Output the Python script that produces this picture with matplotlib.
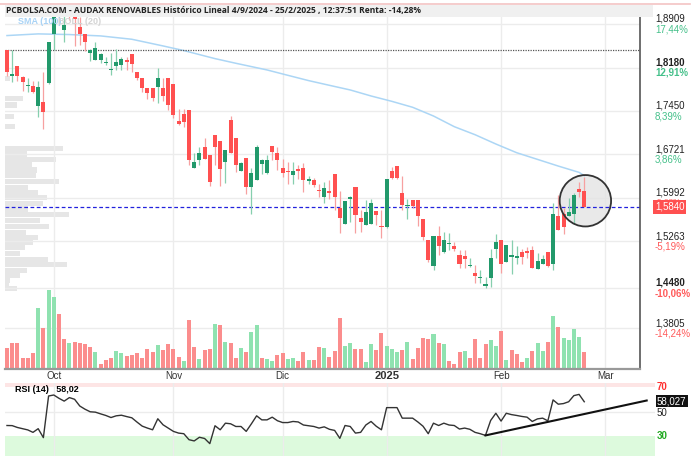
import numpy as np
import pandas as pd
import matplotlib
matplotlib.use('Agg')
import matplotlib.pyplot as plt
from matplotlib.patches import Rectangle, Circle
from matplotlib.lines import Line2D
from matplotlib.transforms import ScaledTranslation, blended_transform_factory

plt.rcParams['font.family'] = ['Liberation Sans', 'DejaVu Sans']

# ## Data ## #

opens = [1.8475, 1.803, 1.8206, 1.8027, 1.788, 1.787, 1.754, 1.760, 1.7926, 1.875,
         1.920, 1.881, 1.915, 1.908, 1.886, 1.874, 1.843, 1.831, 1.831, 1.826,
         1.814, 1.821, 1.822, 1.831, 1.840, 1.811, 1.800, 1.783, 1.783, 1.786,
         1.783, 1.800, 1.790, 1.729, 1.740, 1.747, 1.650, 1.662, 1.685, 1.671,
         1.705, 1.695, 1.660, 1.730, 1.699, 1.645, 1.666, 1.618, 1.630, 1.656,
         1.641, 1.686, 1.674, 1.650, 1.644, 1.638, 1.647, 1.650, 1.627, 1.630,
         1.612, 1.600, 1.611, 1.640, 1.582, 1.556, 1.597, 1.617, 1.566, 1.553,
         1.556, 1.577, 1.552, 1.550, 1.645, 1.653, 1.608, 1.586, 1.595, 1.595,
         1.564, 1.528, 1.485, 1.535, 1.509, 1.522, 1.519, 1.504, 1.501, 1.486,
         1.474, 1.465, 1.452, 1.464, 1.513, 1.529, 1.492, 1.500, 1.499, 1.508,
         1.510, 1.512, 1.480, 1.489, 1.509, 1.489, 1.569, 1.573, 1.569, 1.573,
         1.614, 1.610]
highs = [1.8475, 1.847, 1.8206, 1.803, 1.800, 1.795, 1.795, 1.810, 1.861, 1.915,
         1.925, 1.906, 1.920, 1.915, 1.903, 1.874, 1.849, 1.861, 1.842, 1.836,
         1.842, 1.849, 1.836, 1.836, 1.840, 1.811, 1.800, 1.783, 1.783, 1.817,
         1.800, 1.800, 1.790, 1.748, 1.748, 1.747, 1.674, 1.685, 1.699, 1.671,
         1.705, 1.695, 1.680, 1.737, 1.699, 1.660, 1.666, 1.650, 1.688, 1.664,
         1.671, 1.686, 1.685, 1.665, 1.660, 1.660, 1.654, 1.657, 1.636, 1.632,
         1.623, 1.626, 1.629, 1.640, 1.610, 1.594, 1.603, 1.617, 1.579, 1.596,
         1.598, 1.577, 1.579, 1.631, 1.651, 1.653, 1.636, 1.597, 1.595, 1.595,
         1.564, 1.528, 1.535, 1.552, 1.542, 1.540, 1.526, 1.511, 1.511, 1.498,
         1.486, 1.478, 1.467, 1.513, 1.539, 1.529, 1.520, 1.529, 1.518, 1.514,
         1.517, 1.518, 1.507, 1.503, 1.509, 1.590, 1.604, 1.582, 1.599, 1.608,
         1.626, 1.635]
lows = [1.803, 1.793, 1.796, 1.779, 1.777, 1.775, 1.735, 1.714, 1.790, 1.847,
        1.895, 1.861, 1.898, 1.854, 1.856, 1.846, 1.829, 1.831, 1.825, 1.822,
        1.805, 1.813, 1.814, 1.814, 1.811, 1.797, 1.777, 1.765, 1.761, 1.759,
        1.761, 1.747, 1.734, 1.721, 1.718, 1.654, 1.650, 1.654, 1.664, 1.619,
        1.654, 1.620, 1.625, 1.674, 1.643, 1.645, 1.606, 1.572, 1.630, 1.640,
        1.640, 1.663, 1.646, 1.635, 1.623, 1.623, 1.631, 1.609, 1.623, 1.618,
        1.600, 1.590, 1.598, 1.579, 1.540, 1.556, 1.559, 1.540, 1.542, 1.553,
        1.556, 1.553, 1.532, 1.548, 1.631, 1.631, 1.579, 1.563, 1.582, 1.552,
        1.529, 1.492, 1.479, 1.503, 1.507, 1.512, 1.510, 1.481, 1.481, 1.484,
        1.457, 1.457, 1.448, 1.450, 1.498, 1.474, 1.491, 1.471, 1.489, 1.489,
        1.498, 1.481, 1.480, 1.489, 1.484, 1.479, 1.545, 1.539, 1.568, 1.555,
        1.600, 1.584]
closes = [1.811, 1.807, 1.8044, 1.794, 1.789, 1.777, 1.786, 1.743, 1.861, 1.906,
          1.903, 1.889, 1.905, 1.900, 1.874, 1.861, 1.8475, 1.850, 1.841, 1.827,
          1.815, 1.828, 1.833, 1.827, 1.824, 1.801, 1.783, 1.776, 1.766, 1.800,
          1.770, 1.755, 1.738, 1.724, 1.726, 1.662, 1.660, 1.674, 1.664, 1.626,
          1.685, 1.648, 1.680, 1.675, 1.655, 1.657, 1.618, 1.641, 1.684, 1.662,
          1.663, 1.677, 1.662, 1.641, 1.642, 1.645, 1.644, 1.630, 1.631, 1.621,
          1.610, 1.615, 1.607, 1.601, 1.566, 1.594, 1.601, 1.570, 1.558, 1.576,
          1.590, 1.570, 1.550, 1.631, 1.632, 1.633, 1.587, 1.588, 1.585, 1.568,
          1.533, 1.495, 1.535, 1.519, 1.528, 1.523, 1.513, 1.489, 1.496, 1.487,
          1.468, 1.467, 1.455, 1.499, 1.526, 1.488, 1.520, 1.503, 1.502, 1.500,
          1.506, 1.482, 1.494, 1.497, 1.485, 1.572, 1.546, 1.550, 1.576, 1.604,
          1.609, 1.584]
volume = [21, 26, 26, 11, 11, 16, 61, 41, 79, 72,
          55, 30, 26, 27, 26, 25, 22, 17, 5, 9,
          11, 18, 16, 13, 14, 16, 11, 20, 17, 24,
          19, 25, 20, 12, 8, 49, 22, 10, 19, 20,
          45, 44, 27, 26, 11, 21, 17, 37, 44, 11,
          10, 8, 14, 16, 10, 11, 8, 17, 9, 9,
          22, 21, 12, 18, 51, 23, 26, 20, 20, 7,
          25, 19, 36, 23, 20, 17, 19, 27, 10, 21,
          31, 30, 35, 26, 25, 8, 5, 17, 18, 11,
          30, 11, 25, 29, 23, 38, 9, 19, 15, 7,
          11, 18, 26, 18, 27, 53, 42, 31, 29, 40,
          32, 17]
rsi = [38.6, 38.5, 37.0, 36.0, 35.0, 33.0, 36.0, 28.7, 62.7, 63.5,
       60.8, 58.5, 61.4, 60.0, 54.5, 51.9, 49.8, 49.5, 48.1, 46.8,
       45.1, 46.5, 47.0, 45.9, 44.9, 41.4, 38.1, 36.5, 35.1, 44.1,
       39.2, 36.5, 33.8, 32.4, 31.9, 27.0, 26.0, 29.0, 28.0, 23.8,
       38.4, 35.1, 40.5, 40.0, 37.8, 37.8, 33.8, 40.0, 46.5, 43.2,
       43.2, 45.4, 42.5, 41.0, 41.0, 41.9, 41.5, 39.0, 38.4, 37.8,
       36.5, 37.5, 35.5, 34.6, 28.1, 38.6, 37.8, 32.4, 33.0, 39.0,
       41.9, 38.0, 35.1, 53.2, 53.2, 53.2, 44.6, 44.6, 44.6, 41.5,
       38.0, 31.9, 40.5, 38.6, 40.5, 39.0, 38.6, 35.7, 36.5, 35.5,
       33.0, 31.9, 30.5, 42.7, 48.6, 42.2, 48.6, 47.5, 46.8, 46.0,
       45.4, 41.9, 44.0, 44.6, 42.4, 59.5, 56.0, 56.5, 58.0, 63.0,
       64.0, 58.0]

# SMA(100) read at a few sessions
sma_idx = [0, 6, 12, 18, 24, 30, 34, 40, 44, 50, 54, 58, 62, 66, 70, 74, 78,
           82, 86, 90, 94, 98, 102, 106, 110, 111]
sma_val = [1.8716, 1.8744, 1.8733, 1.8710, 1.8654, 1.8542, 1.8464, 1.8329,
           1.8251, 1.8139, 1.8049, 1.7960, 1.7881, 1.7803, 1.7702, 1.7612,
           1.7512, 1.7366, 1.7187, 1.7052, 1.6896, 1.6750, 1.6638, 1.6526,
           1.6420, 1.6364]

# volume at price profile (left side)
prof_price = [1.800, 1.7663, 1.7551, 1.7360, 1.7187, 1.6823, 1.6728, 1.6632,
              1.6543, 1.6459, 1.6364, 1.6263, 1.6168, 1.6078, 1.5994, 1.5899,
              1.5804, 1.5708, 1.5613, 1.5512, 1.5417, 1.5333, 1.5244, 1.5154,
              1.5059, 1.4964, 1.4874, 1.4773, 1.4684, 1.4605, 1.4532, 1.4470]
prof_vol = [5, 18, 12, 9, 10, 58, 22, 51, 27, 32, 31, 54, 23, 33, 42, 38,
            23, 64, 35, 44, 21, 33, 28, 20, 15, 43, 62, 22, 15, 5, 4, 12]

price_ticks = [1.8909, 1.8180, 1.7450, 1.6721, 1.5992, 1.5263, 1.4480, 1.3805]
price_labels = ['1,8909', '1,8180', '1,7450', '1,6721', '1,5992', '1,5263',
                '1,4480', '1,3805']
pct_labels = ['17,44%', '12,91%', '8,39%', '3,86%', '-0,68%', '-5,19%',
              '-10,06%', '-14,24%']
bold_ticks = ['1,8180', '1,4480']

month_starts = ['2024-10-01', '2024-11-01', '2024-12-01', '2025-01-01',
                '2025-02-01', '2025-03-01']
month_labels = ['Oct', 'Nov', 'Dic', '2025', 'Feb', 'Mar']
holidays = ['2024-12-25', '2024-12-26', '2025-01-01']

last_price = 1.5840
buy_price = 1.8479
rsi_last = '58,027'
rsi_trend_idx = [92, 123]
rsi_trend_val = [30.5, 59.0]
circle_idx = 111.2
circle_price = 1.5944

title = ('PCBOLSA.COM - AUDAX RENOVABLES Histórico Lineal 4/9/2024 - '
         '25/2/2025 , 12:37:51 Renta: -14,28%')

# ## Styles ## #
W, H = 695, 461
red = '#ff5050'
green = '#22996b'
red_wick = '#f7a0a0'
green_wick = '#86cfae'
red_vol = '#fb8d8d'
green_vol = '#8fe2b0'
grid_c = '#ececec'


def rect(l, t, r, b):
    # pixel box -> figure fraction
    return [l / W, 1 - b / H, (r - l) / W, (b - t) / H]


dates = pd.bdate_range('2024-09-18', '2025-03-10')
dates = dates[~dates.isin(pd.to_datetime(holidays))]
month_pos = dates.searchsorted(pd.to_datetime(month_starts))

n = len(closes)
x = np.arange(n)
o = np.array(opens)
c = np.array(closes)
hi = np.array(highs)
lo = np.array(lows)
up = c >= o
vol_up = np.r_[False, c[1:] >= c[:-1]]

fig = plt.figure(figsize=(W / 100, H / 100), dpi=100)
fig.patch.set_facecolor('white')

main_rect = rect(5, 15, 640, 369)
xlim = (-0.38, 121.7)
ylim = (1.3121, 1.9061)

# background axes: grid and volume profile
ax_bg = fig.add_axes(main_rect)
ax_bg.set_xlim(xlim)
ax_bg.set_ylim(ylim)
for p in price_ticks:
    ax_bg.axhline(p, color=grid_c, lw=1)
for m in month_pos:
    ax_bg.axvline(m, color=grid_c, lw=1)
prof_tr = blended_transform_factory(ax_bg.transAxes, ax_bg.transData)
pv = np.array(prof_vol, dtype=float)
ax_bg.barh(prof_price, pv / pv.max() * 0.1008, height=0.0088, left=0,
           color='#e6e6e6', transform=prof_tr)
ax_bg.axis('off')

# volume axes
ax_vol = fig.add_axes(main_rect)
ax_vol.patch.set_alpha(0)
ax_vol.set_xlim(xlim)
ax_vol.set_ylim(0, 354)
ax_vol.bar(x, volume, width=0.77,
           color=[green_vol if u else red_vol for u in vol_up])
ax_vol.axis('off')

# price axes
ax = fig.add_axes(main_rect)
ax.patch.set_alpha(0)
ax.set_xlim(xlim)
ax.set_ylim(ylim)
ax.set_xticks([])
ax.set_yticks([])
for s in ['top', 'left']:
    ax.spines[s].set_visible(False)
ax.spines['right'].set_color('#555555')
ax.spines['right'].set_linewidth(1.2)
ax.spines['bottom'].set_color('#999999')
ax.spines['bottom'].set_linewidth(1.6)

ax.axhline(buy_price, color='#555555', lw=0.9, ls=(0, (1, 1)), zorder=2.5)
ax.axhline(last_price, color='#2222dd', lw=0.9, ls=(0, (3, 2)), zorder=2.5)
ax.plot(sma_idx, sma_val, color='#acd6f5', lw=1.1, zorder=2.2)

circ_tr = fig.dpi_scale_trans + ScaledTranslation(circle_idx, circle_price,
                                                   ax.transData)
ax.add_patch(Circle((0, 0), 0.257, transform=circ_tr, facecolor='#e4e4e4',
                    alpha=0.8, edgecolor='none', zorder=2))
ax.add_patch(Circle((0, 0), 0.257, transform=circ_tr, facecolor='none',
                    edgecolor='#333333', lw=1.3, zorder=4))

ax.vlines(x, lo, hi, colors=[green_wick if u else red_wick for u in up],
          lw=0.9, zorder=3)
body = np.maximum(np.abs(c - o), 0.0016)
ax.bar(x, body, bottom=np.minimum(o, c) - np.where(np.abs(c - o) < 0.0016,
                                                    0.0008, 0),
       width=0.78, color=[green if u else red for u in up], zorder=3.2)

# right price scale
rtr = blended_transform_factory(ax.transAxes, ax.transData)
for p, lab, pct in zip(price_ticks, price_labels, pct_labels):
    w = 'bold' if lab in bold_ticks else 'normal'
    ax.text(1.0236, p + 0.0003, lab, transform=rtr, fontsize=7, va='bottom',
            ha='left', color='#222222', weight=w)
    if lab == '1,5992':
        # mostly hidden behind the last price box
        ax.text(1.0236, p - 0.0003, pct, transform=rtr, fontsize=6, va='top',
                ha='left', color='#ff5a5a', zorder=1)
        continue
    ax.text(1.0236, p - 0.0003, pct, transform=rtr, fontsize=7, va='top',
            ha='left', color='#45c08a' if pct[0] != '-' else '#ff5a5a',
            weight=w)
ax.text(1.0236, last_price, '1,5840', transform=rtr, fontsize=7, va='center',
        ha='left', color='white', zorder=5,
        bbox=dict(facecolor='#ff5050', edgecolor='none', pad=1.4))

# month labels
mtr = blended_transform_factory(ax.transData, fig.transFigure)
for m, lab in zip(month_pos, month_labels):
    ax.text(m, 1 - 376 / H, lab, transform=mtr, ha='center', va='center',
            fontsize=8 if lab == '2025' else 7,
            weight='bold' if lab == '2025' else 'normal', color='#333333')

# RSI panel
ax_r = fig.add_axes(rect(5, 383, 655, 456))
ax_r.set_xlim(-0.38, 124.6)
ax_r.set_ylim(13.7, 73.3)
ax_r.axhspan(13.7, 30, color='#ddfadd', lw=0)
ax_r.axhspan(70, 73.3, color='#fde5e5', lw=0)
ax_r.axhline(50, color=grid_c, lw=1)
for m in month_pos:
    ax_r.axvline(m, color=grid_c, lw=1)
ax_r.plot(x, rsi, color='#333333', lw=1)
ax_r.plot(rsi_trend_idx, rsi_trend_val, color='#111111', lw=1.5)
ax_r.set_xticks([])
ax_r.set_yticks([])
for s in ax_r.spines.values():
    s.set_visible(False)
ax_r.text(0.015, 71.5, 'RSI (14)   58,02', transform=blended_transform_factory(
    ax_r.transAxes, ax_r.transData), fontsize=6.5, weight='bold', va='top')
rr = blended_transform_factory(ax_r.transAxes, ax_r.transData)
ax_r.text(1.003, 70, '70', transform=rr, fontsize=7, color='#ff3030',
          va='center', weight='bold')
ax_r.text(1.003, 49.0, '50', transform=rr, fontsize=7, color='#222222',
          va='center')
ax_r.text(1.003, 30, '30', transform=rr, fontsize=7, color='#22aa22',
          va='center', weight='bold')
ax_r.text(1.003, 58.6, rsi_last, transform=rr, fontsize=7, color='white',
          va='center', bbox=dict(facecolor='#111111', edgecolor='none',
                                 pad=1.0))

# title bar and indicator legend
fig.add_artist(Line2D([0, 690 / W], [1 - 4 / H, 1 - 4 / H], color='#f3c4c4',
                      lw=1.2, transform=fig.transFigure))
fig.add_artist(Rectangle((5 / W, 1 - 17 / H), 648 / W, 12 / H,
                         transform=fig.transFigure, facecolor='#f0f0f0',
                         edgecolor='none', zorder=5))
fig.text(6 / W, 1 - 11 / H, title, fontsize=6.1, weight='bold',
         family=['Open Sans', 'DejaVu Sans'], color='#222222', va='center',
         zorder=6)
fig.text(18 / W, 1 - 22 / H, 'SMA (100)', fontsize=6.5, weight='bold',
         color='#a9d3f5', va='center', zorder=6)
fig.text(58 / W, 1 - 22 / H, 'BOLL (20)', fontsize=6.5, weight='bold',
         color='#d4d4d4', va='center', zorder=6)

fig.savefig('out.png', dpi=100, facecolor='white')
